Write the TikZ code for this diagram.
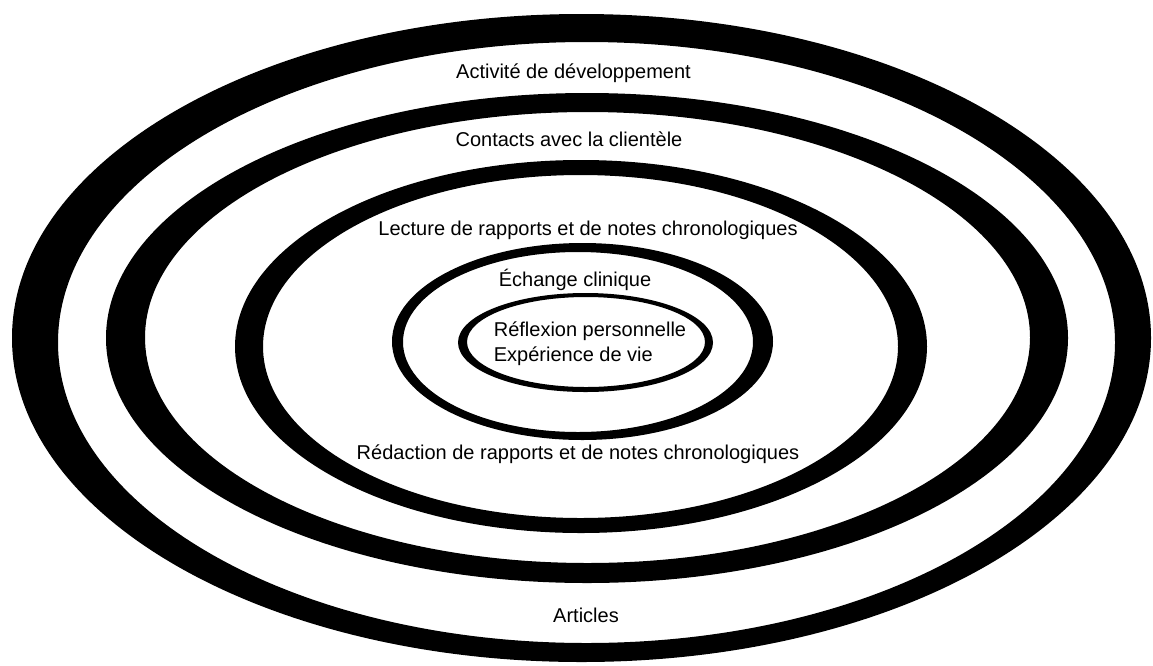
\documentclass[tikz,border=0pt]{standalone}
\usepackage{fontspec}
\setmainfont{Liberation Sans}
\begin{document}
\begin{tikzpicture}[x=1pt,y=-1pt,
  ring/.style={fill=black,even odd rule},
  label/.style={inner sep=0pt,font=\fontsize{20}{25}\selectfont}]
% canvas
\fill[white] (0,0) rectangle (1153,665);
\useasboundingbox (0,0) rectangle (1153,665);

% each ring is the area between an outer and an inner ellipse
\fill[ring] (581.5,338) ellipse [x radius=569.5pt, y radius=324pt]
            (586.5,342.5) ellipse [x radius=528.5pt, y radius=300.5pt];
\fill[ring] (587,338) ellipse [x radius=481pt, y radius=245pt]
            (587.5,337.5) ellipse [x radius=442.5pt, y radius=225.5pt];
\fill[ring] (581,346.5) ellipse [x radius=346pt, y radius=186.5pt]
            (580.5,346.5) ellipse [x radius=317.5pt, y radius=171.5pt];
\fill[ring] (582.5,341.5) ellipse [x radius=190.5pt, y radius=98.5pt]
            (578,342) ellipse [x radius=175pt, y radius=90pt];
\fill[ring] (585.5,342.5) ellipse [x radius=127.5pt, y radius=49.5pt]
            (586,342) ellipse [x radius=119pt, y radius=45pt];

% labels
\node[label] (dev) at (573.5,73) {Activité de développement};
\node[label] (cli) at (569,139) {Contacts avec la clientèle};
\node[label] (lec) at (588,230) {Lecture de rapports et de notes chronologiques};
\node[label] (ech) at (575,280) {Échange clinique};
\node[label,align=left] (ref) at (590,344) {Réflexion personnelle\\Expérience de vie};
\node[label] (red) at (578,454) {Rédaction de rapports et de notes chronologiques};
\node[label] (art) at (586,615) {Articles};
\end{tikzpicture}
\end{document}
